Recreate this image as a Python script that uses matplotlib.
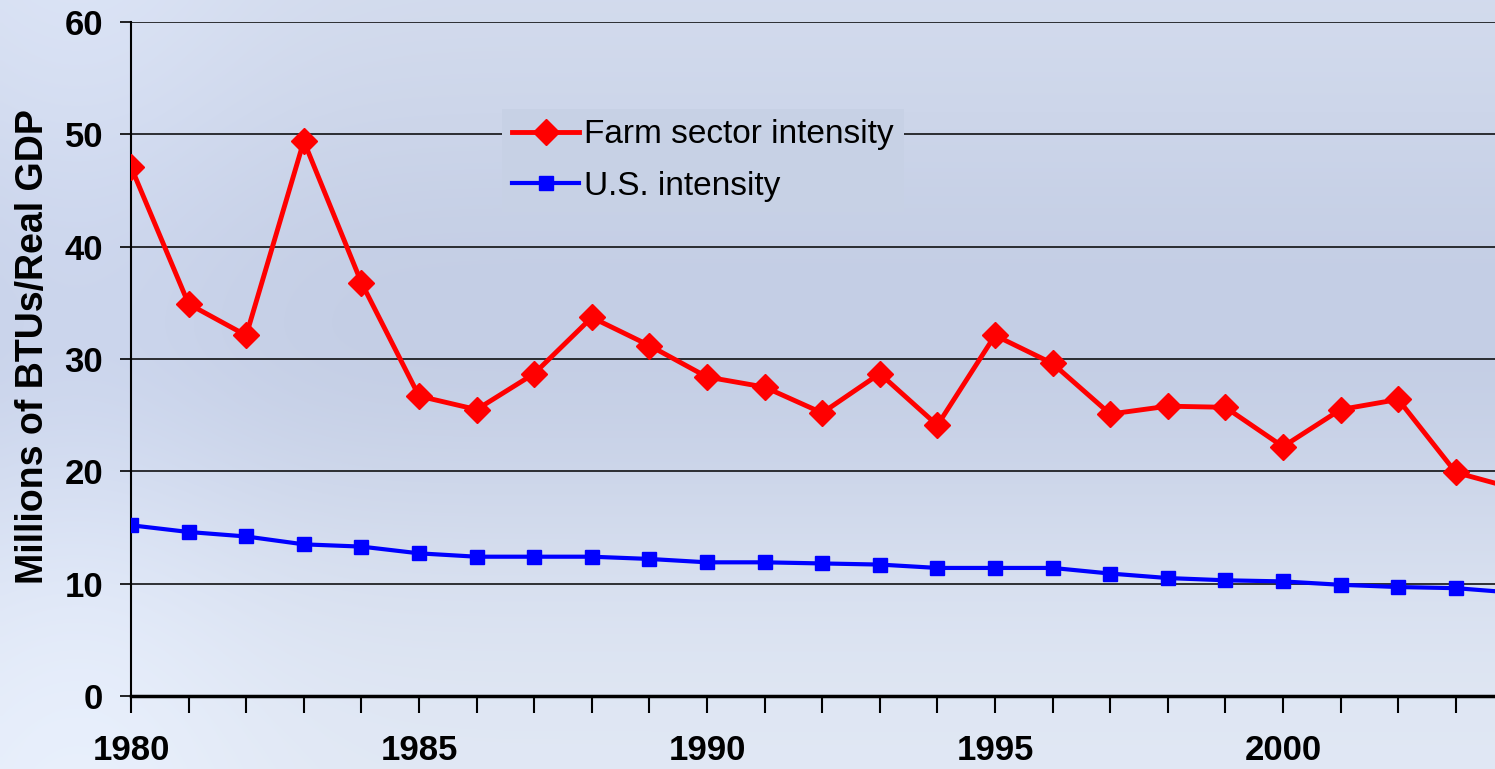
import numpy as np
import matplotlib
matplotlib.use('Agg')
import matplotlib.pyplot as plt
from matplotlib.ticker import MultipleLocator

# data (the 2004 point is cut by the right edge)
years = list(range(1980, 2005))
farm = [47.1, 34.9, 32.1, 49.4, 36.8, 26.7, 25.5, 28.7, 33.7, 31.2,
        28.4, 27.5, 25.2, 28.7, 24.1, 32.1, 29.6, 25.1, 25.8, 25.7,
        22.2, 25.5, 26.4, 19.9, 18.5]
us = [15.2, 14.6, 14.2, 13.5, 13.3, 12.7, 12.4, 12.4, 12.4, 12.2,
      11.9, 11.9, 11.8, 11.7, 11.4, 11.4, 11.4, 10.9, 10.5, 10.3,
      10.2, 9.9, 9.7, 9.6, 9.2]
major_years = [1980, 1985, 1990, 1995, 2000]

plt.rcParams['font.family'] = ['Liberation Sans', 'DejaVu Sans']

fig = plt.figure(figsize=(14.95, 7.69), dpi=100)

# slide-like background gradient
top = np.array([214, 222, 239]) / 255
mid = np.array([196, 206, 229]) / 255
bot = np.array([226, 233, 245]) / 255


def bg_color(y):
    # y: 0 at top, 1 at bottom
    w = np.exp(-((y - 0.42) / 0.33) ** 2)
    base = np.where(y < 0.42, top, bot)
    return base * (1 - w) + mid * w


bg = fig.add_axes([0, 0, 1, 1])
ny, nx = 400, 300
yy = np.linspace(0, 1, ny)[:, None, None]
xx = np.linspace(0, 1, nx)[None, :, None]
img = bg_color(yy) + 0.03 * np.exp(-((xx - 0.05) / 0.12) ** 2)
img = np.broadcast_to(img, (ny, nx, 3))
bg.imshow(np.clip(img, 0, 1), aspect='auto', extent=[0, 1, 0, 1],
          origin='upper', interpolation='bilinear')
bg.axis('off')

ax = fig.add_axes([131 / 1495, 1 - 696 / 769, 1 - 131 / 1495, (696 - 22) / 769])
ax.patch.set_alpha(0)

ax.plot(years, farm, color='#ff0000', lw=3.5, marker='D', ms=13.5,
        label='Farm sector intensity', clip_on=True, zorder=3)
ax.plot(years, us, color='#0000ff', lw=3, marker='s', ms=10,
        label='U.S. intensity', clip_on=True, zorder=3)

ax.set_xlim(1980, 1980 + (1495 - 131) / 57.6)
ax.set_ylim(0, 60)
ax.yaxis.set_major_locator(MultipleLocator(10))
ax.set_xticks(major_years)
ax.xaxis.set_minor_locator(MultipleLocator(1))
ax.grid(axis='y', color='black', lw=1.1, zorder=1)

for s in ['top', 'right']:
    ax.spines[s].set_visible(False)
ax.spines['left'].set_linewidth(1.5)
ax.spines['bottom'].set_linewidth(2.5)

ax.tick_params(axis='y', length=8, width=1.2, labelsize=25, pad=12)
ax.tick_params(axis='x', which='both', length=12, width=1.5, labelsize=25, pad=15)
for lab in ax.get_xticklabels() + ax.get_yticklabels():
    lab.set_fontweight('bold')

ax.set_ylabel('Millions of BTUs/Real GDP', fontsize=27, fontweight='bold')
ax.yaxis.set_label_coords(-0.059, 0.519)

leg = ax.legend(loc='upper left', bbox_to_anchor=(0.26, 0.895), fontsize=24,
                frameon=True, fancybox=False, framealpha=1, borderpad=0.3,
                handlelength=2.0, handletextpad=0.15, labelspacing=0.62)
leg.get_frame().set_facecolor(bg_color(np.array(155 / 769)) * 0.985)
leg.get_frame().set_edgecolor('none')

fig.savefig('out.png', dpi=100)
